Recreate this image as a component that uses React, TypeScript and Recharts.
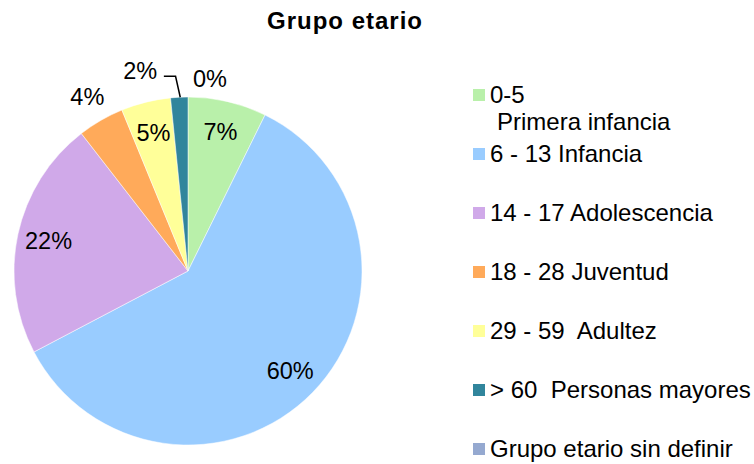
import React from "react";
import { PieChart, Pie, Cell, Legend } from "recharts";

// Data
const categories = [
  "0-5\nPrimera infancia",
  "6 - 13 Infancia",
  "14 - 17 Adolescencia",
  "18 - 28 Juventud",
  "29 - 59  Adultez",
  "> 60  Personas mayores",
  "Grupo etario sin definir",
];
const shares = [7.3, 60.0, 22.2, 4.3, 4.6, 1.6, 0];

const colors = [
  "#B9F0AA",
  "#99CCFF",
  "#D0A9E9",
  "#FFAA5A",
  "#FFFF99",
  "#31859C",
  "#95A9D0",
];

const title = "Grupo etario";

const data = categories.map((name, i) => ({ name, value: shares[i] }));

const FONT = "'Liberation Sans', Arial, sans-serif";
const RADIAN = Math.PI / 180;

// small slices get their label outside the pie (offsets from the outer edge point)
const outside: Record<number, { dx: number; dy: number; line?: boolean }> = {
  5: { dx: -39, dy: -26, line: true },
  6: { dx: 22, dy: -18 },
};

const renderLabel = (props: any) => {
  const { cx, cy, midAngle, outerRadius, percent, index } = props;
  const cos = Math.cos(-midAngle * RADIAN);
  const sin = Math.sin(-midAngle * RADIAN);
  const text = `${Math.round(percent * 100)}%`;
  const style = { fontFamily: FONT, fontSize: 23.5, fill: "#000" };

  if (index === 3) {
    const r = outerRadius + 27;
    return (
      <text x={cx + r * cos} y={cy + r * sin} textAnchor="middle" dominantBaseline="central" style={style}>
        {text}
      </text>
    );
  }
  if (outside[index]) {
    const ox = cx + outerRadius * cos;
    const oy = cy + outerRadius * sin;
    const o = outside[index];
    return (
      <g>
        {o.line && (
          <polyline
            points={`${ox + 1},${oy} ${ox - 3.7},${oy - 21} ${ox - 15.4},${oy - 21}`}
            fill="none"
            stroke="#000"
            strokeWidth={1.5}
          />
        )}
        <text x={ox + o.dx} y={oy + o.dy} textAnchor="middle" dominantBaseline="central" style={style}>
          {text}
        </text>
      </g>
    );
  }
  const r = outerRadius * 0.82;
  return (
    <text x={cx + r * cos} y={cy + r * sin} textAnchor="middle" dominantBaseline="central" style={style}>
      {text}
    </text>
  );
};

// legend keeps the data order
const LegendBox = () => {
  return (
    <div style={{ position: "relative", width: 754, height: 464 }}>
      {categories.map((name, i) => {
        const baseline = 103 + i * 58.95;
        const lines = name.split("\n");
        return (
          <div key={i}>
            <div
              style={{
                position: "absolute",
                left: 473,
                top: baseline - 14,
                width: 12,
                height: 12,
                background: colors[i],
              }}
            />
            {lines.map((ln, j) => (
              <div
                key={j}
                style={{
                  position: "absolute",
                  left: j === 0 ? 490 : 497,
                  top: baseline - 22 + j * 27,
                  fontFamily: FONT,
                  fontSize: 24,
                  lineHeight: "28px",
                  whiteSpace: "pre",
                  color: "#000",
                }}
              >
                {ln}
              </div>
            ))}
          </div>
        );
      })}
    </div>
  );
};

export default function App() {
  return (
    <div style={{ position: "absolute", left: 0, top: 0, width: 754, height: 464, background: "#fff" }}>
      <div
        style={{
          position: "absolute",
          left: 0,
          top: 29 - 22,
          width: 690,
          textAlign: "center",
          fontFamily: FONT,
          fontWeight: "bold",
          fontSize: 24,
          letterSpacing: 1,
          lineHeight: "28px",
          color: "#000",
        }}
      >
        {title}
      </div>
      <PieChart width={754} height={464} margin={{ top: 0, right: 0, bottom: 0, left: 0 }}>
        <Pie
          data={data}
          dataKey="value"
          nameKey="name"
          cx={188}
          cy={271}
          outerRadius={174}
          startAngle={90}
          endAngle={-270}
          stroke="#fff"
          strokeWidth={0.5}
          label={renderLabel}
          labelLine={false}
          isAnimationActive={false}
        >
          {data.map((d, i) => (
            <Cell key={d.name} fill={colors[i]} />
          ))}
        </Pie>
        <Legend
          content={<LegendBox />}
          wrapperStyle={{ position: "absolute", left: 0, top: 0, width: 754, height: 464 }}
        />
      </PieChart>
    </div>
  );
}
